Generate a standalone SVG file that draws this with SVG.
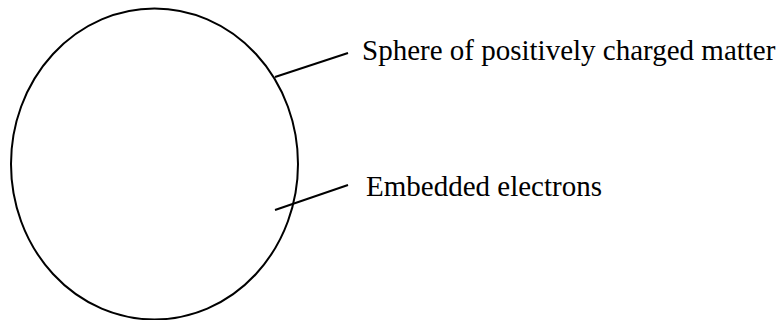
<svg xmlns="http://www.w3.org/2000/svg" width="781" height="320" viewBox="0 0 781 320">
<style>
.s{fill:none;stroke:#000;stroke-width:2}
.t{font-family:"Liberation Serif","Times New Roman",serif;font-size:29px;fill:#000}
</style>
<rect width="781" height="320" fill="#fff"/>
<g id="sphere"><ellipse class="s" cx="154.5" cy="164" rx="143.5" ry="155.5"/></g>
<g id="connectors">
<line class="s" x1="275" y1="77" x2="348" y2="53"/>
<line class="s" x1="275" y1="210" x2="348" y2="185"/>
</g>
<g id="label1"><text class="t" x="362" y="59.5">Sphere of positively charged matter</text></g>
<g id="label2"><text class="t" x="366" y="196">Embedded electrons</text></g>
</svg>
